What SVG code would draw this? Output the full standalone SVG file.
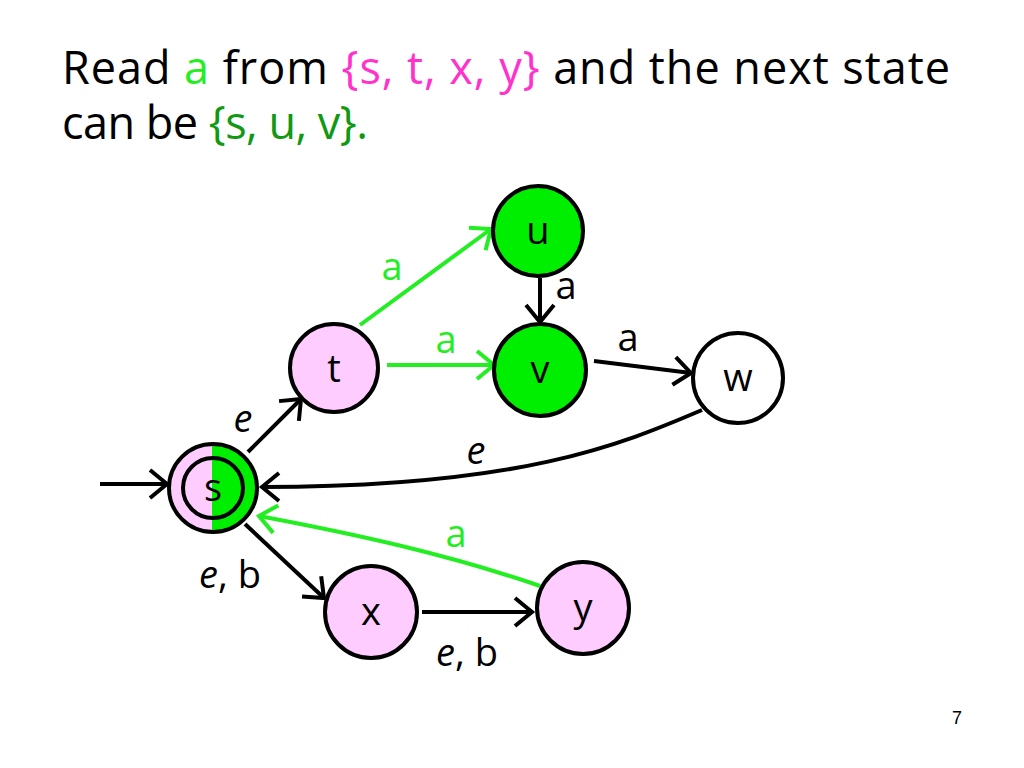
<svg xmlns="http://www.w3.org/2000/svg" width="1024" height="768" viewBox="0 0 1024 768">
<style>
.title{font-family:"Open Sans","Liberation Sans",sans-serif;font-size:45px;fill:#000}
.node{stroke:#000;stroke-width:4}
.pink{fill:#ffccff}
.green{fill:#00ee00}
.lbl{font-family:"Open Sans","Liberation Sans",sans-serif;font-size:38px;fill:#000;text-anchor:middle}
.el{font-family:"Open Sans","Liberation Sans",sans-serif;font-size:38px;text-anchor:middle}
.eg{fill:#22ee22}
.ek{fill:#000}
.it{font-style:italic}
.cb{fill:none;stroke:#000;stroke-width:4}
.cg{fill:none;stroke:#22ee22;stroke-width:4}
</style>
<defs>
<marker id="ab" viewBox="-22 -16 26 32" refX="0" refY="0" markerWidth="26" markerHeight="32" markerUnits="userSpaceOnUse" orient="auto"><path d="M-17,-14 L0,0 L-17,14" fill="none" stroke="#000" stroke-width="4"/></marker>
<marker id="ag" viewBox="-22 -16 26 32" refX="0" refY="0" markerWidth="26" markerHeight="32" markerUnits="userSpaceOnUse" orient="auto"><path d="M-17,-14 L0,0 L-17,14" fill="none" stroke="#22ee22" stroke-width="4"/></marker>
</defs>
<rect width="1024" height="768" fill="#fff"/>
<text class="title" x="62" y="84" textLength="888" lengthAdjust="spacing">Read <tspan fill="#22ee22">a</tspan> from <tspan fill="#ff33cc">{s, t, x, y}</tspan> and the next state</text>
<text class="title" x="62" y="139" textLength="306" lengthAdjust="spacing">can be <tspan fill="#119911">{s, u, v}.</tspan></text>
<g id="connectors">
<line class="cb" x1="100" y1="484" x2="167" y2="484" marker-end="url(#ab)"/>
<line class="cb" x1="248" y1="452" x2="301" y2="399" marker-end="url(#ab)"/>
<line class="cg" x1="360" y1="325" x2="491" y2="229" marker-end="url(#ag)"/>
<line class="cg" x1="387" y1="365" x2="494" y2="365" marker-end="url(#ag)"/>
<line class="cb" x1="540" y1="278" x2="540" y2="322" marker-end="url(#ab)"/>
<line class="cb" x1="594" y1="361" x2="691" y2="373" marker-end="url(#ab)"/>
<path class="cb" d="M702,410 C620,445 520,487 262,487" marker-end="url(#ab)"/>
<path class="cg" d="M540,586 C450,555 360,535 259,516" marker-end="url(#ag)"/>
<line class="cb" x1="245" y1="524" x2="324" y2="598" marker-end="url(#ab)"/>
<line class="cb" x1="422" y1="612" x2="532" y2="612" marker-end="url(#ab)"/>
<text class="el ek it" x="243" y="432">e</text>
<text class="el eg" x="392" y="280">a</text>
<text class="el eg" x="446" y="353">a</text>
<text class="el ek" x="566" y="299">a</text>
<text class="el ek" x="628" y="351">a</text>
<text class="el ek it" x="476" y="464">e</text>
<text class="el eg" x="456" y="547">a</text>
<text class="el ek" x="230" y="588"><tspan class="it">e</tspan>, b</text>
<text class="el ek" x="467" y="666"><tspan class="it">e</tspan>, b</text>
</g>
<g id="node-s">
<path class="pink" d="M212,444 A44,44 0 0 0 212,532 Z"/>
<path class="green" d="M212,444 A44,44 0 0 1 212,532 Z"/>
<circle cx="213" cy="488" r="44" fill="none" class="node"/>
<circle cx="213" cy="488" r="30" fill="none" class="node"/>
<text class="lbl" x="213" y="501" font-size="36">s</text>
</g>
<g id="node-t"><circle class="node pink" cx="334" cy="368" r="44"/><text class="lbl" x="334" y="382">t</text></g>
<g id="node-u"><circle class="node green" cx="538" cy="231" r="45"/><text class="lbl" x="538" y="244">u</text></g>
<g id="node-v"><circle class="node green" cx="540" cy="370" r="46"/><text class="lbl" x="540" y="383">v</text></g>
<g id="node-w"><circle class="node" fill="#fff" cx="738" cy="378" r="45"/><text class="lbl" x="738" y="391">w</text></g>
<g id="node-x"><circle class="node pink" cx="371" cy="612" r="46"/><text class="lbl" x="371" y="625">x</text></g>
<g id="node-y"><circle class="node pink" cx="583" cy="608" r="46"/><text class="lbl" x="583" y="621">y</text></g>
<text x="957" y="724" font-family="Liberation Sans, sans-serif" font-size="18" text-anchor="middle">7</text>
</svg>
